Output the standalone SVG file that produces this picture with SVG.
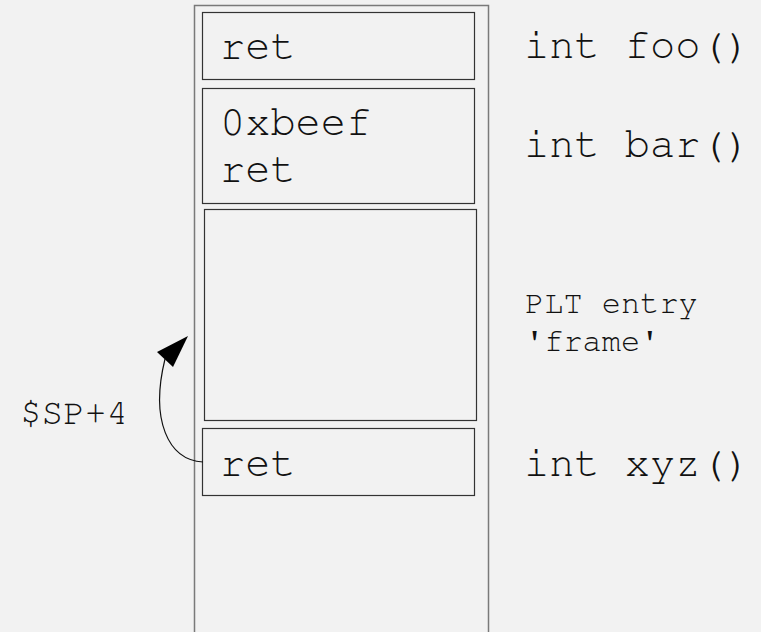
<svg xmlns="http://www.w3.org/2000/svg" width="761" height="632" viewBox="0 0 761 632">
<style>
.bg{fill:#f2f2f2}
.outer{fill:none;stroke:#7a7a7a;stroke-width:1.5}
.box{fill:none;stroke:#333;stroke-width:1.2}
.big{font-family:"Nimbus Mono PS","FreeMono","Liberation Mono",monospace;font-size:42px;fill:#111}
.mid{font-family:"Nimbus Mono PS","FreeMono","Liberation Mono",monospace;font-size:36px;fill:#111}
.small{font-family:"Nimbus Mono PS","FreeMono","Liberation Mono",monospace;font-size:32px;fill:#111}
</style>
<rect class="bg" x="0" y="0" width="761" height="632"/>
<g id="stack"><rect class="outer" x="194.5" y="5.5" width="294" height="640"/></g>
<g id="foo-frame">
<rect class="box" x="202.5" y="12.5" width="272" height="67"/>
<text class="big" x="220" y="59">ret</text>
</g>
<g id="bar-frame">
<rect class="box" x="202.5" y="88.5" width="272" height="115"/>
<text class="big" x="220" y="135">0xbeef</text>
<text class="big" x="220" y="182">ret</text>
</g>
<g id="plt-frame">
<rect class="box" x="204.5" y="209.5" width="272" height="211"/>
</g>
<g id="xyz-frame">
<rect class="box" x="202.5" y="428.5" width="272" height="67"/>
<text class="big" x="220" y="476">ret</text>
</g>
<g id="labels">
<text class="big" x="524" y="58">int foo()</text>
<text class="big" x="524" y="157">int bar()</text>
<text class="small" x="525" y="313">PLT entry</text>
<text class="small" x="525" y="351">'frame'</text>
<text class="big" x="524" y="476">int xyz()</text>
<text class="mid" x="20" y="424">$SP+4</text>
</g>
<g id="connectors">
<path d="M203,462 C168,460 150,420 165,359" fill="none" stroke="#111" stroke-width="1.2"/>
<polygon points="188,336 157,352 173,367" fill="#000"/>
</g>
</svg>
